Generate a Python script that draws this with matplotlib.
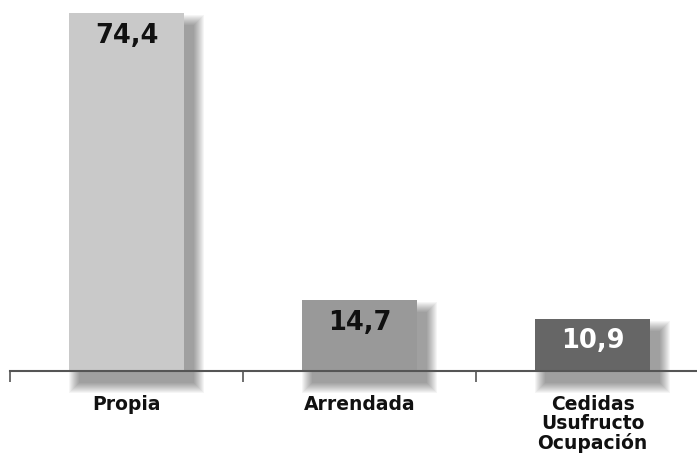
import numpy as np
import matplotlib.pyplot as plt
from matplotlib.patches import Rectangle

categories = ["Propia", "Arrendada", "Cedidas\nUsufructo\nOcupación"]
values = [74.4, 14.7, 10.9]
value_labels = ["74,4", "14,7", "10,9"]
bar_colors = ["#c9c9c9", "#999999", "#666666"]
text_colors = ["#111111", "#111111", "#ffffff"]

W, H = 697, 455
fig = plt.figure(figsize=(W / 100, H / 100), dpi=100)
# axis line sits at y=371 px, starts at x=10 px, each category is 233 px wide
ax = fig.add_axes([10 / W, (H - 371) / H, 699 / W, 371 / H])
ymax = 77.1
ax.set_xlim(-0.5, 2.5)
ax.set_ylim(0, ymax)

px_x = 3.0 / 699
px_y = ymax / 371
bw = 0.495

# soft drop shadows, shifted right and down
dx, dy = 10, -12
for i, v in enumerate(values):
    x0 = i - bw / 2
    for k in range(10, -1, -1):
        ax.add_patch(Rectangle((x0 + (dx - k) * px_x, (dy - k) * px_y),
                               bw + 2 * k * px_x, v + 2 * k * px_y,
                               facecolor="black", alpha=0.04, lw=0,
                               clip_on=False, zorder=1))

ax.bar(range(3), values, width=bw, color=bar_colors, zorder=3)

for i, v in enumerate(values):
    ax.text(i, v - 2.0, value_labels[i], ha="center", va="top",
            fontsize=18.5, fontweight="bold", color=text_colors[i], zorder=4)

ax.spines[["top", "right", "left"]].set_visible(False)
ax.spines["bottom"].set_color("#555555")
ax.spines["bottom"].set_linewidth(1.5)
ax.spines["bottom"].set_zorder(5)
ax.set_yticks([])
ax.set_xticks([-0.5, 0.5, 1.5, 2.5], minor=True)
ax.tick_params(axis="x", which="minor", length=8, width=1.2, color="#555555")
ax.set_xticks(range(3))
ax.set_xticklabels(categories, fontsize=13.5, fontweight="bold", color="#111111",
                   linespacing=1.02)
ax.tick_params(axis="x", which="major", length=0, pad=17)

fig.savefig("out.png", dpi=100, facecolor="white")
